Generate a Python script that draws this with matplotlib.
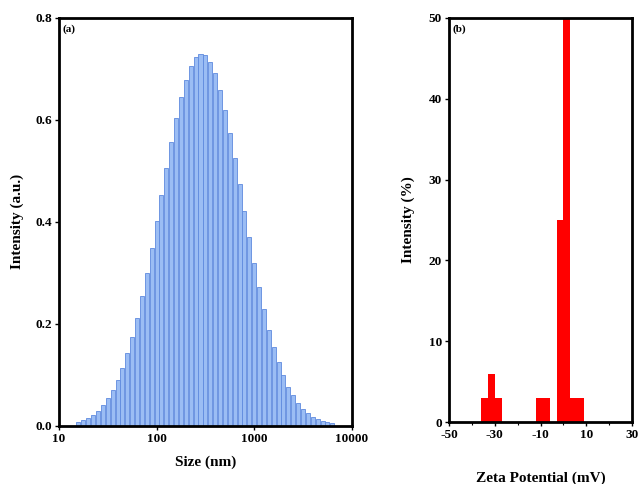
import matplotlib
matplotlib.use("Agg")
import matplotlib.pyplot as plt
import numpy as np
from matplotlib.ticker import FixedLocator

plt.rcParams['font.family'] = ['Liberation Serif', 'DejaVu Serif']
plt.rcParams['font.weight'] = 'bold'
plt.rcParams['axes.unicode_minus'] = False

### (a) size distribution (DLS), bin centres in nm and intensities
size_nm = [15.85, 17.78, 19.95, 22.39, 25.12, 28.18, 31.62, 35.48, 39.81, 44.67,
           50.12, 56.23, 63.10, 70.79, 79.43, 89.13, 100.0, 112.2, 125.9, 141.3,
           158.5, 177.8, 199.5, 223.9, 251.2, 281.8, 316.2, 354.8, 398.1, 446.7,
           501.2, 562.3, 631.0, 707.9, 794.3, 891.3, 1000, 1122, 1259, 1413,
           1585, 1778, 1995, 2239, 2512, 2818, 3162, 3548, 3981, 4467,
           5012, 5623, 6310]
intensity_au = [0.008, 0.012, 0.016, 0.022, 0.030, 0.041, 0.054, 0.070, 0.090, 0.114,
                0.142, 0.175, 0.212, 0.254, 0.300, 0.349, 0.401, 0.453, 0.506, 0.556,
                0.603, 0.644, 0.679, 0.705, 0.723, 0.730, 0.727, 0.713, 0.691, 0.659,
                0.620, 0.575, 0.526, 0.474, 0.422, 0.370, 0.319, 0.272, 0.229, 0.189,
                0.155, 0.125, 0.099, 0.077, 0.060, 0.045, 0.034, 0.025, 0.018, 0.013,
                0.009, 0.007, 0.005]

### (b) zeta potential histogram, bin centres in mV and intensities in %
zeta_mv = [-34.5, -31.5, -28.5, -10.5, -7.5, -1.5, 1.5, 4.5, 7.5]
zeta_pct = [3, 6, 3, 3, 3, 25, 50, 3, 3]
zeta_bin = 3.0

fig = plt.figure(figsize=(6.38, 4.84), dpi=100)

def style(ax):
    for s in ax.spines.values():
        s.set_linewidth(2.0)
        s.set_color('black')
    ax.tick_params(direction='out', length=3, width=1, labelsize=9.5, pad=2)
    for lab in ax.get_xticklabels() + ax.get_yticklabels():
        lab.set_fontweight('bold')

### panel (a)
ax1 = fig.add_axes([0.0925, 0.120, 0.459, 0.843])
sz = np.array(size_nm)
w = sz * (10 ** 0.0205 - 10 ** -0.0205)
ax1.bar(sz, intensity_au, width=w, align='center',
        color='#9bbdf4', edgecolor='#5f8ade', linewidth=0.6)
ax1.set_xscale('log')
ax1.set_xlim(10, 10000)
ax1.set_ylim(0, 0.8)
ax1.xaxis.set_major_locator(FixedLocator([10, 100, 1000, 10000]))
ax1.set_xticklabels(['10', '100', '1000', '10000'])
ax1.xaxis.set_minor_locator(FixedLocator([]))
ax1.set_yticks([0.0, 0.2, 0.4, 0.6, 0.8])
ax1.set_yticklabels(['0.0', '0.2', '0.4', '0.6', '0.8'])
style(ax1)
ax1.set_xlabel('Size (nm)', fontsize=11, fontweight='bold', labelpad=8)
ax1.set_ylabel('Intensity (a.u.)', fontsize=11, fontweight='bold', labelpad=8)
ax1.text(0.012, 0.985, '(a)', transform=ax1.transAxes, fontsize=8,
         fontweight='bold', va='top', ha='left')

### panel (b)
ax2 = fig.add_axes([0.7038, 0.128, 0.2868, 0.835])
ax2.bar(zeta_mv, zeta_pct, width=zeta_bin, align='center',
        color='#ff0000', edgecolor='#ff0000', linewidth=0)
ax2.set_xlim(-50, 30)
ax2.set_ylim(0, 50)
ax2.set_xticks([-50, -30, -10, 10, 30])
ax2.set_xticks([-40, -20, 0, 20], minor=True)
ax2.set_yticks([0, 10, 20, 30, 40, 50])
style(ax2)
ax2.tick_params(which='minor', direction='out', length=2, width=0.8)
ax2.set_xlabel('Zeta Potential (mV)', fontsize=11, fontweight='bold', labelpad=22)
ax2.set_ylabel('Intensity (%)', fontsize=11, fontweight='bold', labelpad=10)
ax2.text(0.02, 0.985, '(b)', transform=ax2.transAxes, fontsize=8,
         fontweight='bold', va='top', ha='left')

fig.savefig('out.png', dpi=100)
